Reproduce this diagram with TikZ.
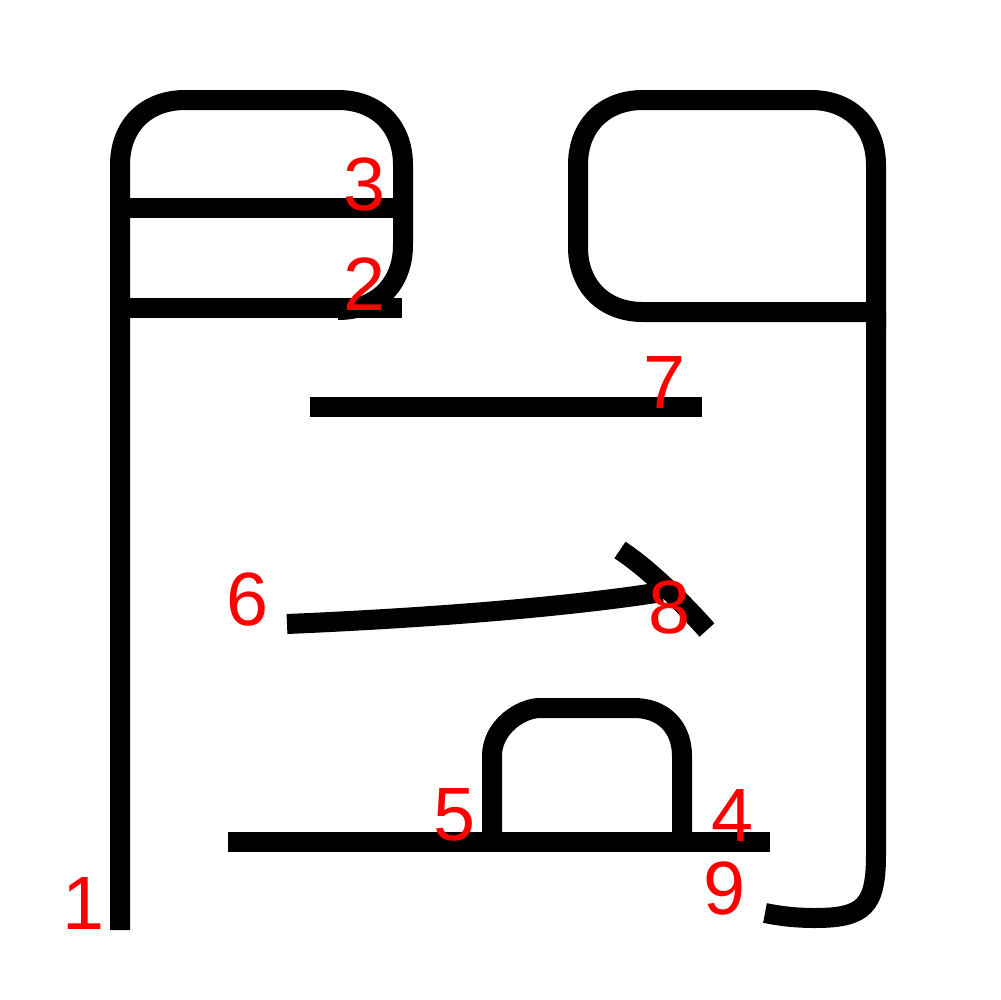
\documentclass[tikz,border=0pt]{standalone}
\usepackage{fontspec}
\newfontfamily\lblfont{Liberation Sans}
\begin{document}
\begin{tikzpicture}[x=0.1mm,y=-0.1mm,
  strk/.style={line width=2mm,line cap=butt,line join=round,draw=black},
  lbl/.style={text=red,inner sep=0pt,font=\lblfont\fontsize{21.5}{25}\selectfont}]
\useasboundingbox (0,0) rectangle (1000,1000);
% stroke 1 and top-left frame
\draw[strk] (120,930) -- (120,165) .. controls (120,126) and (146,100) .. (185,100)
  -- (338,100) .. controls (377,100) and (403,126) .. (403,165)
  -- (403,245) .. controls (403,284) and (377,310) .. (338,310);
% stroke 2 / 3 horizontals
\draw[strk] (120,308) -- (402,308);
\draw[strk] (120,208) -- (395,208);
% right top box
\draw[strk] (876,312) -- (643,312) .. controls (604,312) and (578,286) .. (578,247)
  -- (578,165) .. controls (578,126) and (604,100) .. (643,100)
  -- (811,100) .. controls (850,100) and (876,126) .. (876,165) -- (876,330);
% right vertical with hook
\draw[strk] (876,312) -- (876,855) .. controls (876,906) and (864,918) .. (815,918) .. controls (795,918) and (780,916) .. (765,913);
% stroke 7
\draw[strk] (310,407) -- (702,407);
% stroke 6
\draw[strk] (287,624) .. controls (450,617) and (580,605) .. (662,592);
% stroke 8
\draw[strk] (620,550) .. controls (650,570) and (680,600) .. (707,630);
% arch
\draw[strk] (492,840) -- (492,756) .. controls (492,727) and (521,708) .. (540,708)
  -- (634,708) .. controls (663,708) and (682,727) .. (682,756) -- (682,840);
% bottom horizontal
\draw[strk] (228,842) -- (770,842);
% labels
\node[lbl] (n1) at (84,903) {1};
\node[lbl] (n2) at (365,284) {2};
\node[lbl] (n3) at (365,184) {3};
\node[lbl] (n4) at (733,815) {4};
\node[lbl] (n5) at (455,815) {5};
\node[lbl] (n6) at (248,599) {6};
\node[lbl] (n7) at (665,382) {7};
\node[lbl] (n8) at (670,607) {8};
\node[lbl] (n9) at (725,888) {9};
\end{tikzpicture}
\end{document}
